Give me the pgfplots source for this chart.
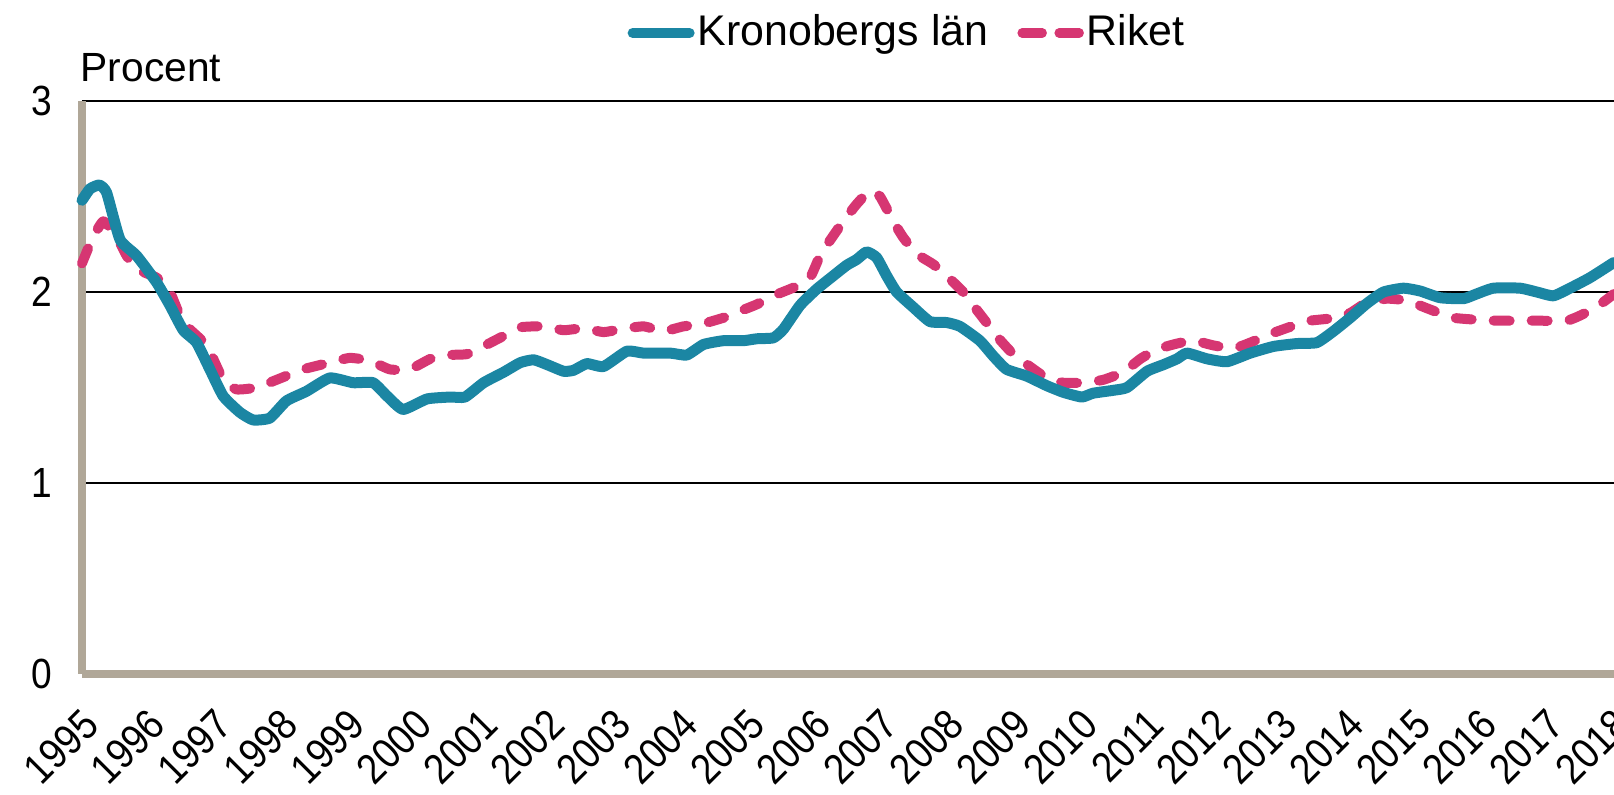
\documentclass[border=0pt]{standalone}
\usepackage{graphicx}
\usepackage{pgfplots}
\pgfplotsset{compat=1.18}
\usepackage{fontspec}
\setmainfont{Liberation Sans}
\definecolor{kron}{HTML}{1B86A3}
\definecolor{riket}{HTML}{D63672}
\definecolor{axgrey}{HTML}{B0A798}
\begin{document}
\begin{tikzpicture}[font=\fontsize{11.6}{13.9}\selectfont]
\useasboundingbox (-8.2mm,-12.1mm) rectangle (153.2mm,67.4mm);
\begin{axis}[
  at={(0,0)}, anchor=south west,
  scale only axis, width=153.2mm, height=57.3mm,
  xmin=1995, xmax=2018, ymin=0, ymax=3,
  axis lines*=left,
  axis line style={line width=0.85mm, color=axgrey},
  xtick={1995,...,2018}, ytick={0,1,2,3},
  major tick length=0pt,
  ymajorgrids, grid style={black, line width=0.12mm},
  /pgf/number format/assume math mode=true,
  /pgf/number format/1000 sep={},
  xticklabel={\scalebox{0.88}[1]{\pgfmathprintnumber{\tick}}},
  yticklabel={\scalebox{0.88}[1]{\pgfmathprintnumber{\tick}}},
  yticklabel style={font=\fontsize{12}{14}\selectfont, anchor=east, inner sep=0pt, xshift=-2.9mm},
  xticklabel style={font=\fontsize{12.1}{14}\selectfont, inner sep=0pt, xshift=0.9mm, yshift=-4.3mm, rotate=45, anchor=east},
  legend style={at={(rel axis cs:0.3557,1.1187)}, anchor=west, draw=none, fill=none,
    legend columns=2, inner sep=0pt, column sep=0pt, row sep=0pt,
    font=\fontsize{12.2}{14}\selectfont,
    nodes={inner xsep=0.3mm, inner ysep=0pt},
    /tikz/every even column/.append style={column sep=2.6mm}},
  legend image code/.code={\draw[#1] (0.5mm,0mm) -- (6.2mm,0mm);},
  clip=false,
]
\addlegendimage{kron, line width=1.0mm, line cap=round}
\addlegendentry{Kronobergs län}
\addlegendimage{riket, line width=0.95mm, line cap=round, dash pattern=on 2.0mm off 1.7mm}
\addlegendentry{Riket}

\addplot[forget plot, riket, line width=1.0mm, line cap=round, line join=round, dash pattern=on 1.6mm off 2.2mm, smooth, tension=0.3] coordinates {
(1995.00,2.15) (1995.15,2.275) (1995.32,2.37) (1995.52,2.29) (1995.67,2.19) (1995.82,2.12) (1996.12,2.075) (1996.32,2.00) (1996.52,1.84) (1996.87,1.72) (1997.12,1.54) (1997.32,1.49) (1997.62,1.50) (1997.92,1.54) (1998.32,1.595) (1998.72,1.63) (1999.02,1.655) (1999.32,1.64) (1999.62,1.595) (1999.92,1.595) (2000.23,1.65) (2000.48,1.67) (2000.78,1.675) (2001.08,1.725) (2001.33,1.77) (2001.58,1.815) (2001.93,1.82) (2002.23,1.80) (2002.53,1.81) (2002.83,1.79) (2003.08,1.805) (2003.43,1.82) (2003.73,1.795) (2004.03,1.82) (2004.28,1.83) (2004.63,1.865) (2004.88,1.90) (2005.13,1.935) (2005.38,1.98) (2005.73,2.03) (2005.93,2.075) (2006.08,2.19) (2006.23,2.27) (2006.43,2.37) (2006.63,2.46) (2006.83,2.53) (2006.98,2.50) (2007.18,2.37) (2007.33,2.285) (2007.53,2.20) (2007.78,2.145) (2007.98,2.085) (2008.23,2.00) (2008.38,1.93) (2008.58,1.84) (2008.78,1.75) (2008.98,1.675) (2009.23,1.61) (2009.48,1.55) (2009.73,1.525) (2010.03,1.525) (2010.33,1.54) (2010.63,1.58) (2010.89,1.65) (2011.14,1.70) (2011.44,1.73) (2011.69,1.745) (2011.99,1.72) (2012.29,1.705) (2012.54,1.735) (2012.84,1.78) (2013.24,1.83) (2013.44,1.85) (2013.84,1.865) (2014.04,1.89) (2014.29,1.945) (2014.59,1.965) (2014.89,1.955) (2015.19,1.915) (2015.59,1.865) (2016.19,1.85) (2016.79,1.85) (2017.29,1.85) (2017.54,1.885) (2017.79,1.935) (2018.00,1.99)
};
\addplot[forget plot, kron, line width=1.1mm, line cap=round, line join=round, smooth, tension=0.3] coordinates {
(1995.00,2.48) (1995.12,2.54) (1995.26,2.56) (1995.37,2.52) (1995.57,2.275) (1995.82,2.19) (1996.12,2.05) (1996.32,1.93) (1996.52,1.80) (1996.72,1.735) (1996.92,1.595) (1997.12,1.455) (1997.37,1.37) (1997.57,1.33) (1997.82,1.34) (1998.07,1.43) (1998.37,1.48) (1998.72,1.55) (1999.07,1.525) (1999.37,1.525) (1999.58,1.455) (1999.82,1.385) (2000.18,1.44) (2000.53,1.45) (2000.75,1.45) (2001.03,1.525) (2001.33,1.58) (2001.58,1.63) (2001.78,1.645) (2001.98,1.62) (2002.23,1.585) (2002.38,1.59) (2002.58,1.625) (2002.83,1.61) (2003.18,1.69) (2003.43,1.68) (2003.83,1.68) (2004.08,1.67) (2004.33,1.725) (2004.63,1.745) (2004.93,1.745) (2005.13,1.755) (2005.38,1.76) (2005.53,1.805) (2005.78,1.93) (2006.03,2.015) (2006.28,2.085) (2006.48,2.14) (2006.63,2.17) (2006.78,2.21) (2006.93,2.18) (2007.08,2.085) (2007.23,2.00) (2007.48,1.92) (2007.73,1.845) (2007.98,1.84) (2008.18,1.82) (2008.48,1.745) (2008.68,1.665) (2008.88,1.595) (2009.18,1.56) (2009.48,1.51) (2009.73,1.475) (2010.01,1.45) (2010.18,1.47) (2010.48,1.485) (2010.69,1.50) (2010.99,1.585) (2011.24,1.62) (2011.44,1.65) (2011.59,1.68) (2011.89,1.65) (2012.19,1.635) (2012.54,1.68) (2012.89,1.715) (2013.24,1.73) (2013.54,1.735) (2013.79,1.795) (2014.04,1.865) (2014.29,1.94) (2014.54,2.00) (2014.84,2.02) (2015.09,2.005) (2015.39,1.97) (2015.74,1.965) (2015.94,1.99) (2016.19,2.02) (2016.59,2.02) (2016.84,2.00) (2017.09,1.98) (2017.34,2.02) (2017.64,2.075) (2018.00,2.155)
};
\node[anchor=base west, inner sep=0pt, xshift=-0.2mm, yshift=1.9mm] at (rel axis cs:0,1) {Procent};
\end{axis}
\end{tikzpicture}
\end{document}
